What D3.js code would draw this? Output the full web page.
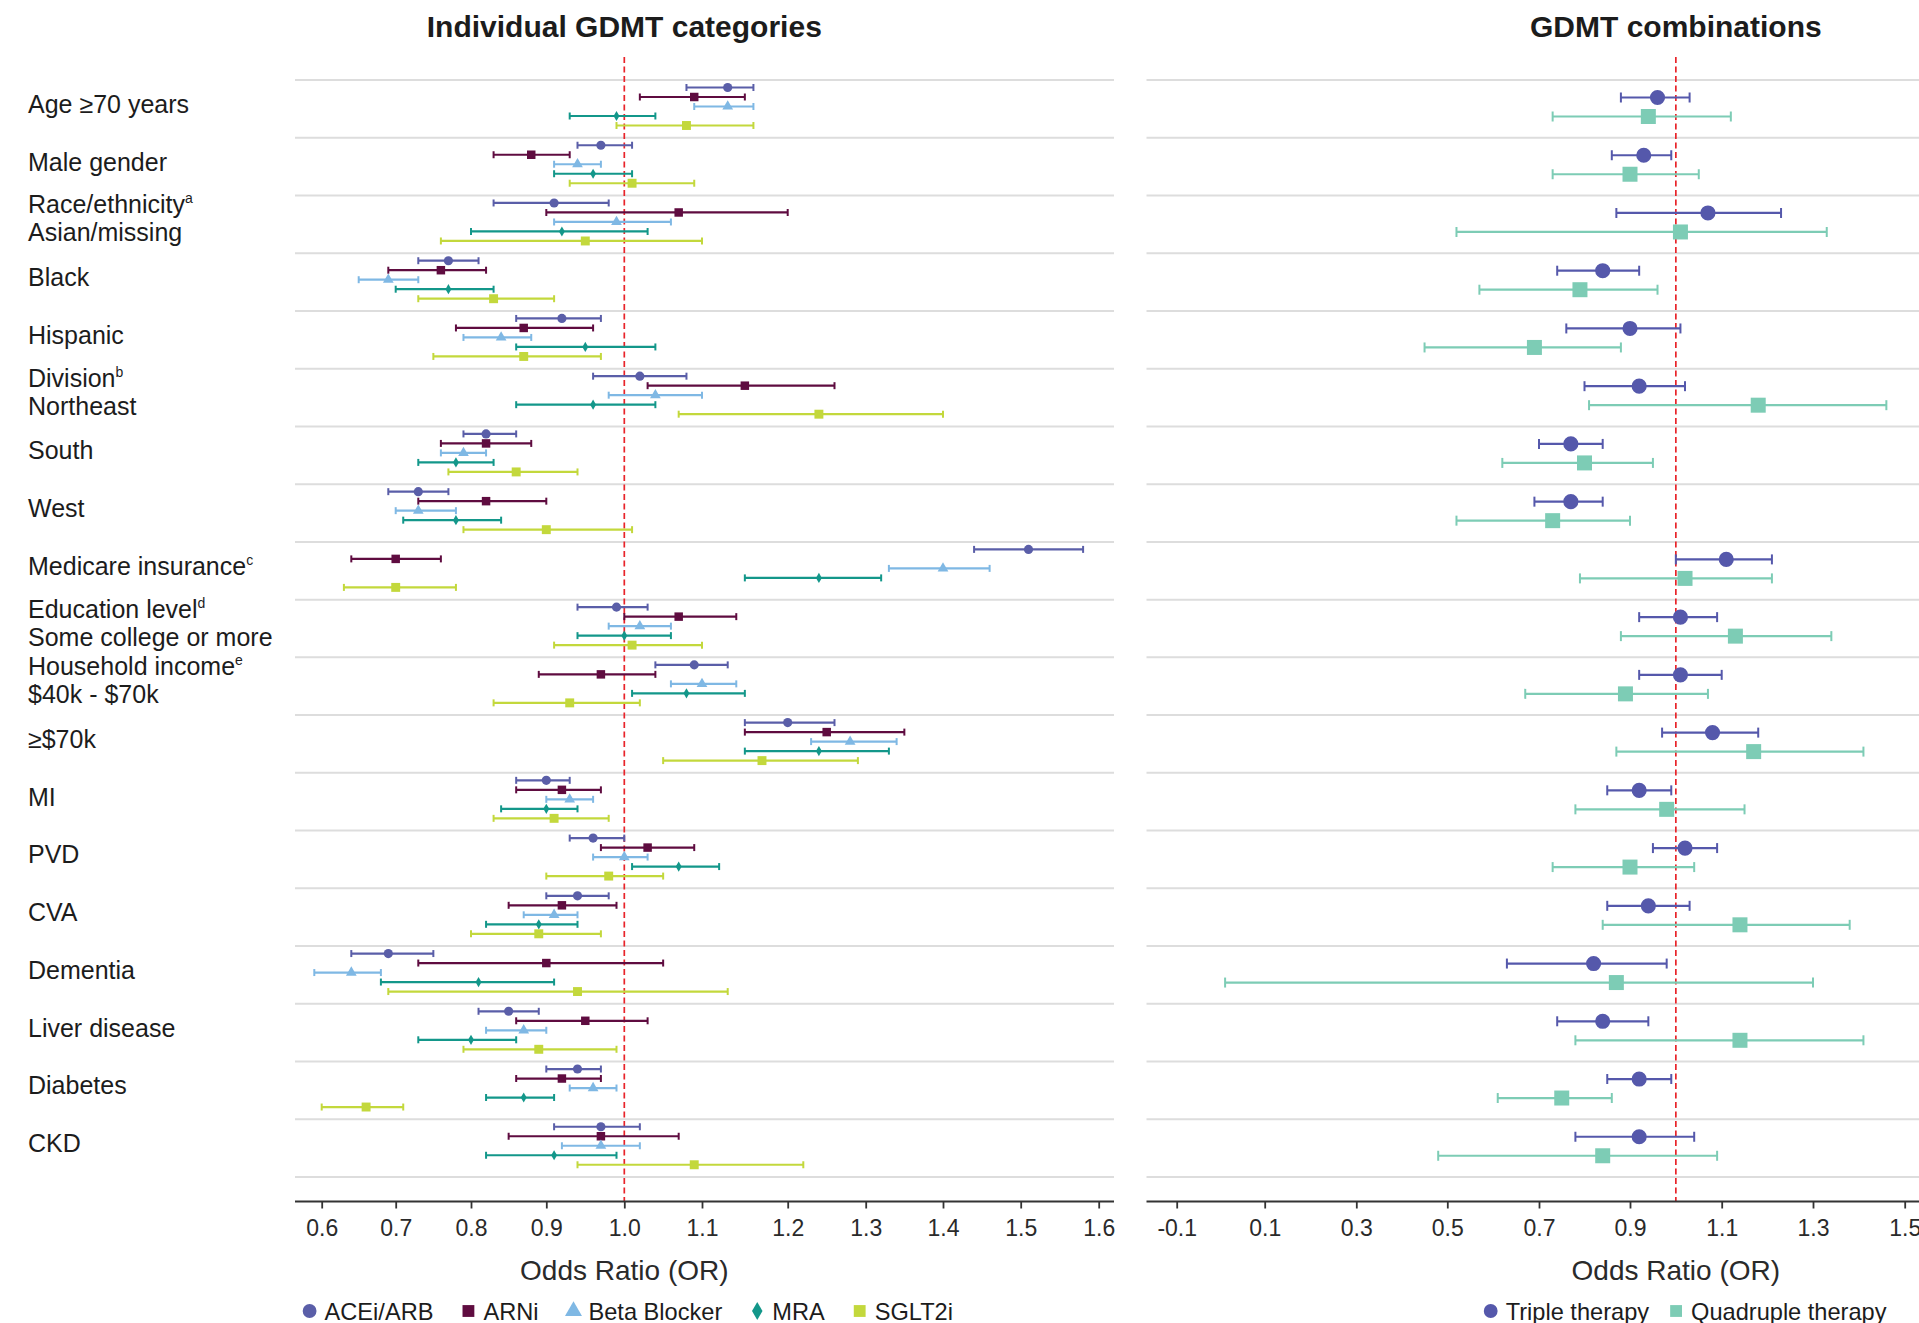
<!DOCTYPE html>
<html>
<head>
<meta charset="utf-8">
<script src="https://cdn.jsdelivr.net/npm/d3@7"></script>
<style>
  body { margin: 0; background: #fff; }
  svg { display: block; font-family: "Liberation Sans", Arial, Helvetica, sans-serif; }
</style>
</head>
<body>
<svg id="chart" width="1919" height="1323"></svg>
<script>
////////////////////////////////////////////////////////////////////////
// Data: odds ratios as [OR, lower CI, upper CI], one entry per row

let rowLabels = ["Age ≥70 years", "Male gender", "Asian/missing", "Black", "Hispanic",
  "Northeast", "South", "West", "Medicare insurance", "Some college or more",
  "$40k - $70k", "≥$70k", "MI", "PVD", "CVA", "Dementia", "Liver disease",
  "Diabetes", "CKD"];
let rowSups = ["", "", "", "", "", "", "", "", "c", "", "", "", "", "", "", "", "", "", ""];

let groupRows = [2, 5, 9, 10];
let groupTitles = ["Race/ethnicity", "Division", "Education level", "Household income"];
let groupSups = ["a", "b", "d", "e"];

let leftNames = ["ACEi/ARB", "ARNi", "Beta Blocker", "MRA", "SGLT2i"];
let rightNames = ["Triple therapy", "Quadruple therapy"];

let leftTicks = [0.6, 0.7, 0.8, 0.9, 1.0, 1.1, 1.2, 1.3, 1.4, 1.5, 1.6];
let rightTicks = [-0.1, 0.1, 0.3, 0.5, 0.7, 0.9, 1.1, 1.3, 1.5];

let aceiArb = [
  [1.13, 1.08, 1.16], [0.97, 0.94, 1.01], [0.91, 0.83, 0.98], [0.77, 0.73, 0.81],
  [0.92, 0.86, 0.97], [1.02, 0.96, 1.08], [0.82, 0.79, 0.86], [0.73, 0.69, 0.77],
  [1.51, 1.44, 1.58], [0.99, 0.94, 1.03], [1.09, 1.04, 1.13], [1.20, 1.15, 1.26],
  [0.90, 0.86, 0.93], [0.96, 0.93, 1.00], [0.94, 0.90, 0.98], [0.69, 0.64, 0.75],
  [0.85, 0.81, 0.89], [0.94, 0.90, 0.97], [0.97, 0.91, 1.02]];
let arni = [
  [1.09, 1.02, 1.15], [0.88, 0.83, 0.93], [1.07, 0.90, 1.20], [0.76, 0.69, 0.82],
  [0.87, 0.78, 0.96], [1.15, 1.03, 1.26], [0.82, 0.76, 0.88], [0.82, 0.73, 0.90],
  [0.70, 0.64, 0.76], [1.07, 1.00, 1.14], [0.97, 0.89, 1.04], [1.25, 1.15, 1.35],
  [0.92, 0.86, 0.97], [1.03, 0.97, 1.09], [0.92, 0.85, 0.99], [0.90, 0.73, 1.05],
  [0.95, 0.86, 1.03], [0.92, 0.86, 0.97], [0.97, 0.85, 1.07]];
let betaBlocker = [
  [1.13, 1.09, 1.16], [0.94, 0.91, 0.97], [0.99, 0.91, 1.06], [0.69, 0.65, 0.73],
  [0.84, 0.79, 0.88], [1.04, 0.98, 1.10], [0.79, 0.76, 0.82], [0.73, 0.70, 0.78],
  [1.40, 1.33, 1.46], [1.02, 0.98, 1.06], [1.10, 1.06, 1.14], [1.28, 1.23, 1.34],
  [0.93, 0.90, 0.96], [1.00, 0.96, 1.03], [0.91, 0.87, 0.94], [0.64, 0.59, 0.68],
  [0.87, 0.82, 0.90], [0.96, 0.93, 0.99], [0.97, 0.92, 1.02]];
let mra = [
  [0.99, 0.93, 1.04], [0.96, 0.91, 1.01], [0.92, 0.80, 1.03], [0.77, 0.70, 0.83],
  [0.95, 0.86, 1.04], [0.96, 0.86, 1.04], [0.78, 0.73, 0.83], [0.78, 0.71, 0.84],
  [1.24, 1.15, 1.32], [1.00, 0.94, 1.06], [1.08, 1.01, 1.15], [1.24, 1.15, 1.33],
  [0.90, 0.84, 0.94], [1.07, 1.01, 1.12], [0.89, 0.82, 0.94], [0.81, 0.68, 0.91],
  [0.80, 0.73, 0.86], [0.87, 0.82, 0.91], [0.91, 0.82, 0.99]];
let sglt2i = [
  [1.08, 0.99, 1.16], [1.01, 0.93, 1.09], [0.95, 0.76, 1.10], [0.83, 0.73, 0.91],
  [0.87, 0.75, 0.97], [1.24, 1.07, 1.40], [0.86, 0.77, 0.94], [0.90, 0.79, 1.01],
  [0.70, 0.63, 0.78], [1.01, 0.91, 1.10], [0.93, 0.83, 1.02], [1.17, 1.05, 1.29],
  [0.91, 0.83, 0.98], [0.98, 0.90, 1.05], [0.89, 0.80, 0.97], [0.94, 0.69, 1.13],
  [0.89, 0.79, 0.99], [0.66, 0.60, 0.71], [1.09, 0.94, 1.22]];

let tripleTherapy = [
  [0.96, 0.88, 1.03], [0.93, 0.86, 0.99], [1.07, 0.87, 1.23], [0.84, 0.74, 0.92],
  [0.90, 0.76, 1.01], [0.92, 0.80, 1.02], [0.77, 0.70, 0.84], [0.77, 0.69, 0.84],
  [1.11, 1.00, 1.21], [1.01, 0.92, 1.09], [1.01, 0.92, 1.10], [1.08, 0.97, 1.18],
  [0.92, 0.85, 0.99], [1.02, 0.95, 1.09], [0.94, 0.85, 1.03], [0.82, 0.63, 0.98],
  [0.84, 0.74, 0.94], [0.92, 0.85, 0.99], [0.92, 0.78, 1.04]];
let quadrupleTherapy = [
  [0.94, 0.73, 1.12], [0.90, 0.73, 1.05], [1.01, 0.52, 1.33], [0.79, 0.57, 0.96],
  [0.69, 0.45, 0.88], [1.18, 0.81, 1.46], [0.80, 0.62, 0.95], [0.73, 0.52, 0.90],
  [1.02, 0.79, 1.21], [1.13, 0.88, 1.34], [0.89, 0.67, 1.07], [1.17, 0.87, 1.41],
  [0.98, 0.78, 1.15], [0.90, 0.73, 1.04], [1.14, 0.84, 1.38], [0.87, 0.01, 1.30],
  [1.14, 0.78, 1.41], [0.75, 0.61, 0.86], [0.84, 0.48, 1.09]];

////////////////////////////////////////////////////////////////////////
// Layout

let svg = d3.select("#chart");
let axisY = 1201.5;
let textColor = "#1c1c1c";

let y = d3.scaleBand().domain(d3.range(rowLabels.length)).range([80, 1177]);

// tick positions in the source figure are not perfectly even,
// so the x scales are piecewise linear through the ticks
let xLeft = d3.scaleLinear().domain(leftTicks)
  .range([321.7, 395.7, 471, 546.3, 624.3, 702, 787.7, 865.7, 943, 1020.7, 1098.7]);
let xRight = d3.scaleLinear().domain(rightTicks)
  .range([1176.7, 1264.7, 1356.3, 1447.3, 1539, 1630, 1721.7, 1813, 1904.7]);

let leftPanel = {
  x: xLeft, x0: 295, x1: 1114, ticks: leftTicks,
  title: "Individual GDMT categories",
  series: [aceiArb, arni, betaBlocker, mra, sglt2i],
  names: leftNames,
  colors: ["#5a5ea8", "#5f0c40", "#7fb8e4", "#13978a", "#c3d83c"],
  shapes: [d3.symbolCircle, d3.symbolSquare, d3.symbolTriangle, d3.symbolDiamond, d3.symbolSquare],
  sizes: [66, 72, 50, 30, 80],
  legendSizes: [150, 140, 125, 95, 140],
  offset: d3.scalePoint().domain(d3.range(5)).range([7.5, 45.5]),
  cap: 3.5,
  legendX: 309.6, legendGap: 35
};

let rightPanel = {
  x: xRight, x0: 1146.5, x1: 1919, ticks: rightTicks,
  title: "GDMT combinations",
  series: [tripleTherapy, quadrupleTherapy],
  names: rightNames,
  colors: ["#5558ab", "#7dccb5"],
  shapes: [d3.symbolCircle, d3.symbolSquare],
  sizes: [180, 225],
  legendSizes: [150, 140],
  offset: d3.scalePoint().domain(d3.range(2)).range([17.5, 36.5]),
  cap: 5,
  legendX: 1490.7, legendGap: 27
};

function drawPanel(p) {
  let g = svg.append("g");

  // row separators
  let gridYs = d3.range(rowLabels.length).map(i => y(i)).concat([y.range()[1]]);
  g.append("g").selectAll("line").data(gridYs).join("line")
    .attr("x1", p.x0).attr("x2", p.x1)
    .attr("y1", d => d).attr("y2", d => d)
    .attr("stroke", "#dddddd").attr("stroke-width", 2);

  // reference line at OR = 1
  g.append("line")
    .attr("x1", p.x(1)).attr("x2", p.x(1))
    .attr("y1", 57).attr("y2", axisY)
    .attr("stroke", "#e8242a").attr("stroke-width", 1.7)
    .attr("stroke-dasharray", "6,3.5");

  // error bars + point estimates
  p.series.forEach((vals, si) => {
    let sg = g.append("g").attr("stroke", p.colors[si]).attr("fill", p.colors[si]);
    let dy = p.offset(si);
    sg.selectAll("line.bar").data(vals).join("line").attr("class", "bar")
      .attr("x1", d => p.x(d[1])).attr("x2", d => p.x(d[2]))
      .attr("y1", (d, i) => y(i) + dy).attr("y2", (d, i) => y(i) + dy)
      .attr("stroke-width", 2.2);
    sg.selectAll("line.capLo").data(vals).join("line").attr("class", "capLo")
      .attr("x1", d => p.x(d[1])).attr("x2", d => p.x(d[1]))
      .attr("y1", (d, i) => y(i) + dy - p.cap).attr("y2", (d, i) => y(i) + dy + p.cap)
      .attr("stroke-width", 2);
    sg.selectAll("line.capHi").data(vals).join("line").attr("class", "capHi")
      .attr("x1", d => p.x(d[2])).attr("x2", d => p.x(d[2]))
      .attr("y1", (d, i) => y(i) + dy - p.cap).attr("y2", (d, i) => y(i) + dy + p.cap)
      .attr("stroke-width", 2);
    sg.selectAll("path").data(vals).join("path")
      .attr("d", d3.symbol(p.shapes[si], p.sizes[si]))
      .attr("transform", (d, i) => `translate(${p.x(d[0])},${y(i) + dy})`)
      .attr("stroke", "none");
  });

  // x axis
  g.append("line")
    .attr("x1", p.x0).attr("x2", p.x1)
    .attr("y1", axisY).attr("y2", axisY)
    .attr("stroke", "#333").attr("stroke-width", 1.8);
  let ax = g.append("g").attr("transform", `translate(0,${axisY})`)
    .call(d3.axisBottom(p.x).tickValues(p.ticks)
      .tickFormat(d => d.toFixed(1)).tickSize(7).tickPadding(11));
  ax.select(".domain").remove();
  ax.attr("font-family", null).attr("font-size", 23);
  ax.selectAll(".tick line").attr("stroke", "#333").attr("stroke-width", 1.8);
  ax.selectAll(".tick text").attr("fill", "#2a2a2a");

  g.append("text")
    .attr("x", p.x(1)).attr("y", 1280)
    .attr("text-anchor", "middle").attr("font-size", 28).attr("fill", "#2a2a2a")
    .text("Odds Ratio (OR)");

  // panel title
  g.append("text")
    .attr("x", p.x(1)).attr("y", 37)
    .attr("text-anchor", "middle").attr("font-size", 30).attr("font-weight", "bold")
    .attr("fill", textColor)
    .text(p.title);

  // legend
  let lx = p.legendX;
  p.names.forEach((name, si) => {
    g.append("path")
      .attr("d", d3.symbol(p.shapes[si], p.legendSizes[si]))
      .attr("transform", `translate(${lx},1311)`)
      .attr("fill", p.colors[si]);
    let t = g.append("text")
      .attr("x", lx + 15).attr("y", 1319.5)
      .attr("font-size", 23.6).attr("fill", textColor)
      .text(name);
    lx = lx + 15 + t.node().getComputedTextLength() + p.legendGap;
  });
}

drawPanel(leftPanel);
drawPanel(rightPanel);

// row labels
let labels = svg.append("g").attr("font-size", 25).attr("fill", textColor);
rowLabels.forEach((lab, i) => {
  let isGroup = groupRows.indexOf(i) >= 0;
  let mid = y(i) + y.bandwidth() / 2;
  let t = labels.append("text")
    .attr("x", 28).attr("y", isGroup ? mid + 17 : mid + 4)
    .text(lab);
  if (rowSups[i]) {
    t.append("tspan").attr("font-size", 14).attr("dy", -10).text(rowSups[i]);
  }
});
groupRows.forEach((r, k) => {
  let mid = y(r) + y.bandwidth() / 2;
  let t = labels.append("text").attr("x", 28).attr("y", mid - 11).text(groupTitles[k]);
  t.append("tspan").attr("font-size", 14).attr("dy", -10).text(groupSups[k]);
});
</script>
</body>
</html>
